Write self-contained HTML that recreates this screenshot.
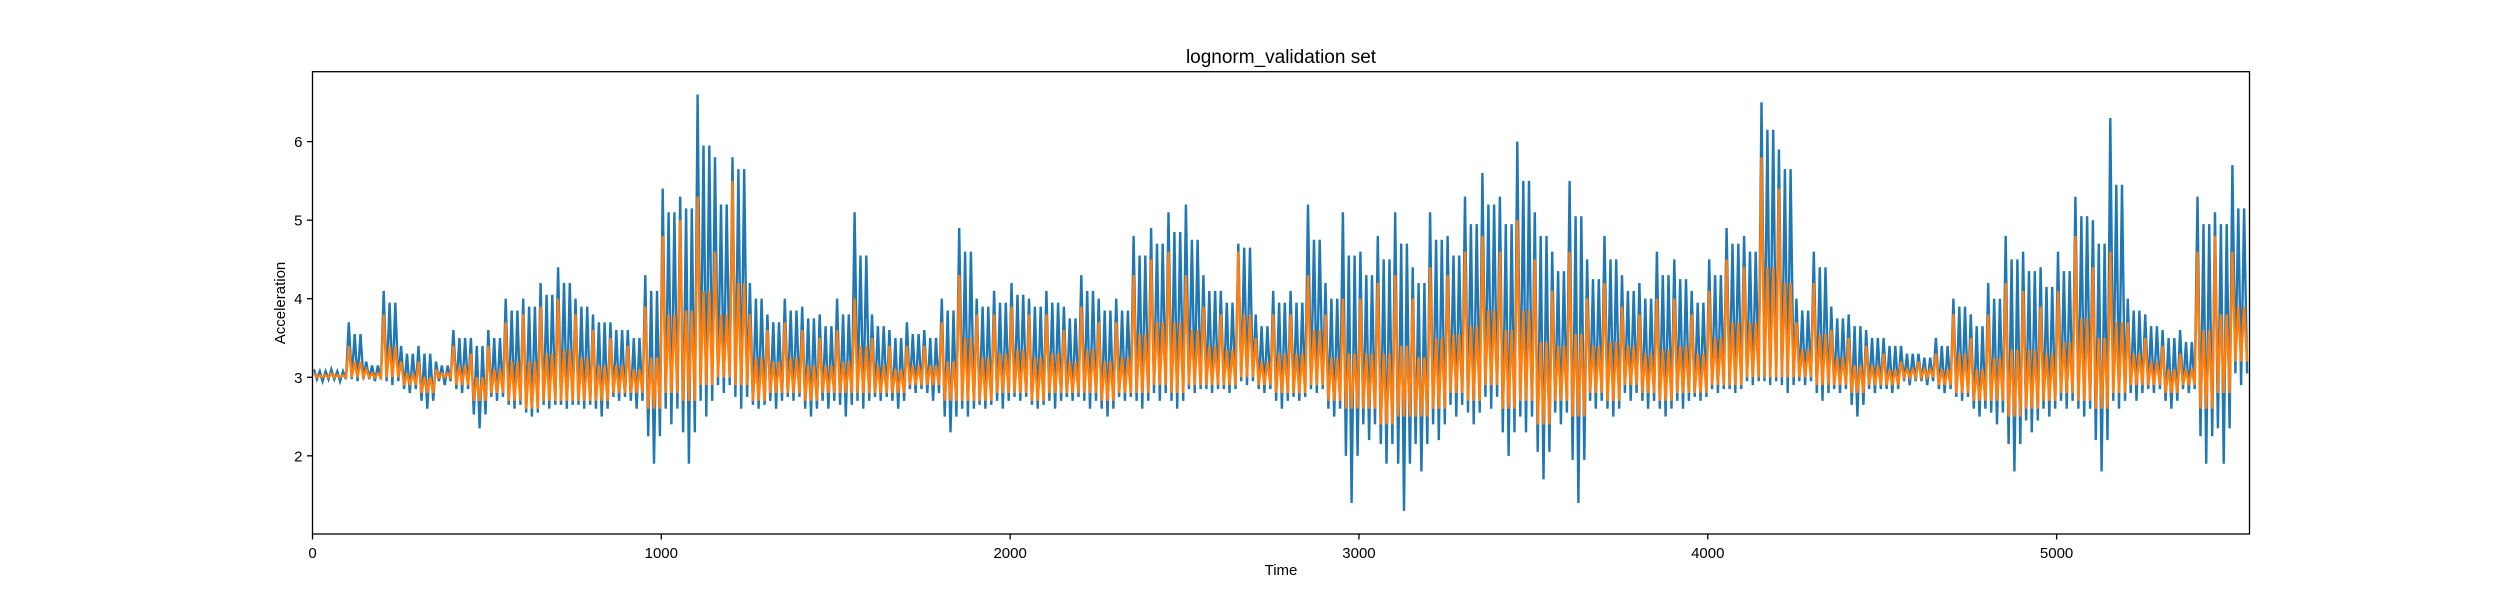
<!DOCTYPE html>
<html><head><meta charset="utf-8"><style>
body{margin:0;background:#fff;}
svg{display:block;font-family:"Liberation Sans","DejaVu Sans",sans-serif;}
</style></head><body>
<svg id="chart" width="2500" height="600" viewBox="0 0 2500 600" xmlns="http://www.w3.org/2000/svg">
<rect x="0" y="0" width="2500" height="600" fill="#fff"/>
<text x="1281" y="63" text-anchor="middle" font-size="19" fill="#000">lognorm_validation set</text>
<g id="series"></g>
<g id="axes"></g>
<text x="1281" y="575" text-anchor="middle" font-size="15" fill="#000">Time</text>
<text transform="translate(285,303) rotate(-90)" text-anchor="middle" font-size="15" fill="#000">Acceleration</text>
</svg>
<script>
const binStart = 0, binWidth = 50;
const blueHi = [3.1,3.1,3.7,3.2,4.1,3.4,3.4,3.2,3.6,3.5,3.6,4.0,4.0,4.2,4.4,4.0,3.8,3.7,3.6,4.3,5.4,5.3,6.6,5.8,5.8,4.2,3.8,4.0,3.9,3.8,4.0,5.1,3.8,3.6,3.7,3.6,4.0,4.9,4.0,4.1,4.2,4.0,4.1,3.9,4.3,4.0,4.0,4.8,4.9,5.1,5.2,4.3,4.1,4.7,3.8,4.1,4.1,5.2,4.2,5.1,4.6,4.8,5.1,4.4,5.1,4.8,5.3,5.6,5.3,6.0,5.1,4.6,5.5,4.5,4.8,4.3,4.2,4.6,4.5,4.1,4.5,4.9,4.8,6.5,5.9,4.0,4.6,3.9,3.8,3.6,3.5,3.4,3.3,3.5,4.0,3.8,4.2,4.8,4.6,4.4,4.6,5.3,5.0,6.3,4.0,3.8,3.6,3.6,5.3,5.1,5.7];
const blueLo = [2.95,2.95,2.95,2.95,2.9,2.8,2.6,2.9,2.8,2.35,2.7,2.6,2.5,2.6,2.6,2.6,2.5,2.7,2.6,1.9,2.4,1.9,2.5,2.8,2.6,2.6,2.6,2.7,2.5,2.6,2.5,2.6,2.7,2.6,2.8,2.7,2.3,2.5,2.6,2.6,2.7,2.6,2.6,2.7,2.6,2.5,2.7,2.6,2.7,2.6,2.8,2.8,2.8,2.9,2.8,2.6,2.7,2.8,2.5,1.4,2.2,1.9,1.3,1.8,2.2,2.5,2.4,2.6,2.0,2.3,1.7,2.4,1.4,2.6,2.5,2.7,2.6,2.5,2.6,2.7,2.8,2.8,2.9,2.9,2.8,2.9,2.7,2.8,2.5,2.8,2.8,2.9,2.9,2.8,2.7,2.5,2.4,1.8,2.3,2.5,2.6,2.5,1.8,2.6,2.7,2.8,2.6,2.8,1.9,1.9,2.9];
const orangeHi = [3.05,3.05,3.4,3.1,3.8,3.2,3.2,3.1,3.4,3.3,3.4,3.7,3.8,3.9,4.0,3.8,3.6,3.5,3.4,3.9,4.8,5.0,5.3,4.6,5.5,3.8,3.6,3.7,3.6,3.5,3.6,4.0,3.5,3.4,3.4,3.4,3.7,4.3,3.8,3.8,3.9,3.8,3.8,3.6,3.9,3.7,3.7,4.3,4.5,4.6,4.3,3.9,3.8,4.6,3.5,3.8,3.8,4.3,3.8,4.0,4.0,4.2,4.3,4.0,4.4,4.3,4.6,4.8,4.6,5.0,4.5,4.1,4.6,4.0,4.2,3.9,3.8,4.0,4.0,3.8,4.1,4.5,4.4,5.8,5.4,3.7,4.2,3.6,3.5,3.4,3.3,3.2,3.2,3.3,3.8,3.5,3.8,4.2,4.1,3.9,4.1,4.8,4.4,4.6,3.7,3.5,3.4,3.3,4.6,4.8,4.6];
const orangeLo = [3.0,3.0,3.0,3.0,3.0,2.9,2.8,3.0,2.9,2.7,2.8,2.7,2.6,2.7,2.7,2.7,2.7,2.8,2.8,2.6,2.8,2.7,2.9,3.0,2.9,2.7,2.8,2.8,2.7,2.8,2.8,2.8,2.8,2.8,2.9,2.9,2.7,2.7,2.7,2.8,2.8,2.7,2.8,2.8,2.8,2.7,2.8,2.8,2.9,2.8,2.9,2.9,2.9,3.0,2.9,2.8,2.8,2.9,2.7,2.6,2.6,2.4,2.5,2.5,2.6,2.8,2.7,2.9,2.6,2.7,2.4,2.7,2.5,2.8,2.7,2.9,2.8,2.7,2.8,2.8,2.9,2.9,3.0,3.0,3.0,3.0,2.9,2.9,2.8,2.9,2.9,3.0,3.0,2.9,2.8,2.7,2.7,2.5,2.6,2.7,2.8,2.7,2.6,2.8,2.9,2.9,2.8,2.9,2.6,2.8,3.2];
const xTicks = [0,1000,2000,3000,4000,5000];
const yTicks = [2,3,4,5,6];

const PL=312.5, PR=2249.5, PT=71.7, PB=534, XMIN=0, XMAX=5553, YMIN=1.005, YMAX=6.89;
const NS='http://www.w3.org/2000/svg';
function sx(t){return PL+(t-XMIN)/(XMAX-XMIN)*(PR-PL);}
function sy(v){return PB-(v-YMIN)/(YMAX-YMIN)*(PB-PT);}
const series=document.getElementById('series');
const axes=document.getElementById('axes');

// each bin: a big swing (hi/lo) plus a smaller swing (secondary hi/lo)
function pathFor(hi,lo,hi2,lo2){
  let d='';
  for(let i=0;i<hi.length;i++){
    const t0=binStart+i*binWidth;
    const vals=[hi[i],lo2[i],hi2[i],lo[i],hi2[i],lo2[i]];
    const fr=[0.08,0.25,0.42,0.58,0.75,0.92];
    for(let k=0;k<vals.length;k++){
      d+=((i===0&&k===0)?'M':'L')+sx(t0+binWidth*fr[k]).toFixed(1)+','+sy(vals[k]).toFixed(1);
    }
  }
  return d;
}
function midArr(a,b){return a.map((v,i)=>(v+b[i])/2);}
const clip=document.createElementNS(NS,'clipPath');clip.setAttribute('id','pc');
const cr=document.createElementNS(NS,'rect');cr.setAttribute('x',PL);cr.setAttribute('y',PT);cr.setAttribute('width',PR-PL);cr.setAttribute('height',PB-PT);
clip.appendChild(cr);document.getElementById('chart').appendChild(clip);

const bl=document.createElementNS(NS,'path');


bl.setAttribute('d',pathFor(blueHi,blueLo,midArr(blueHi,orangeHi),midArr(blueLo,orangeLo)));
bl.setAttribute('fill','none');bl.setAttribute('stroke','#1f77b4');bl.setAttribute('stroke-width','2.4');bl.setAttribute('clip-path','url(#pc)');
series.appendChild(bl);
const ol=document.createElementNS(NS,'path');


ol.setAttribute('d',pathFor(orangeHi,orangeLo,midArr(orangeHi,orangeLo),orangeLo));
ol.setAttribute('fill','none');ol.setAttribute('stroke','#ff7f0e');ol.setAttribute('stroke-width','2.4');ol.setAttribute('clip-path','url(#pc)');
series.appendChild(ol);

const frame=document.createElementNS(NS,'rect');


frame.setAttribute('x',PL);frame.setAttribute('y',PT);frame.setAttribute('width',PR-PL);frame.setAttribute('height',PB-PT);
frame.setAttribute('fill','none');frame.setAttribute('stroke','#000');frame.setAttribute('stroke-width','1.3');
axes.appendChild(frame);

xTicks.forEach(v=>{
  const x=sx(v);
  const l=document.createElementNS(NS,'line');
  
  
  l.setAttribute('x1',x);l.setAttribute('x2',x);l.setAttribute('y1',PB);l.setAttribute('y2',PB+5.5);l.setAttribute('stroke','#000');l.setAttribute('stroke-width','1.3');
  axes.appendChild(l);
  const tx=document.createElementNS(NS,'text');
  
  
  tx.setAttribute('x',x);tx.setAttribute('y',PB+24);tx.setAttribute('text-anchor','middle');tx.setAttribute('font-size','15');
  tx.textContent=v;axes.appendChild(tx);
});
yTicks.forEach(v=>{
  const y=sy(v);
  const l=document.createElementNS(NS,'line');
  
  
  l.setAttribute('x1',PL-5.5);l.setAttribute('x2',PL);l.setAttribute('y1',y);l.setAttribute('y2',y);l.setAttribute('stroke','#000');l.setAttribute('stroke-width','1.3');
  axes.appendChild(l);
  const tx=document.createElementNS(NS,'text');
  
  
  tx.setAttribute('x',PL-10);tx.setAttribute('y',y+5.5);tx.setAttribute('text-anchor','end');tx.setAttribute('font-size','15');
  tx.textContent=v;axes.appendChild(tx);
});
</script>
</body></html>
